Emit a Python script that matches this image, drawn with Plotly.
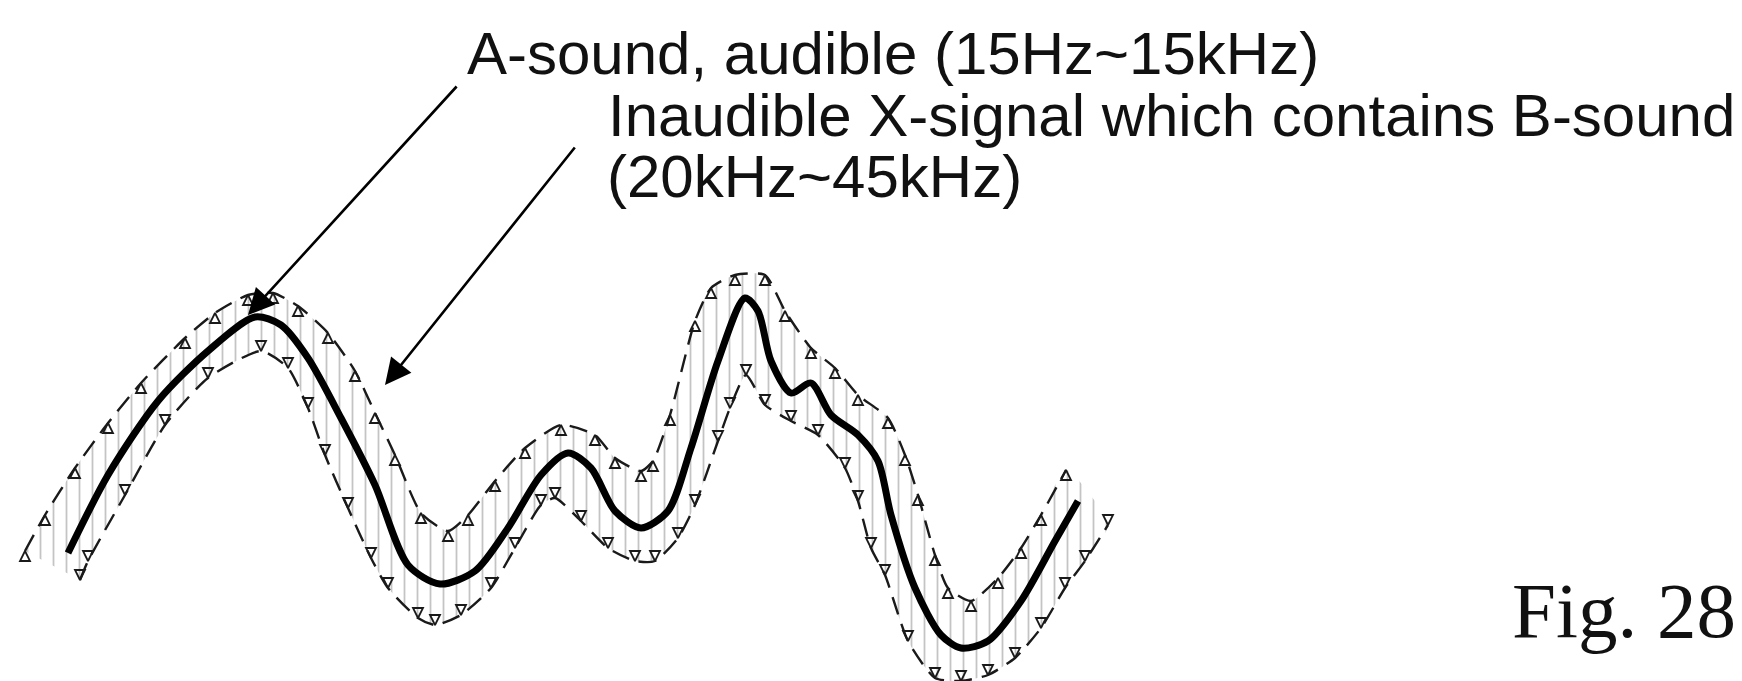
import plotly.graph_objects as go

# A-sound (solid curve) (pixel-like units, y downward)
main_x = [60, 100, 150, 200, 247, 273, 300, 333, 367, 400, 432, 467, 500, 533, 560, 583, 607, 633, 660, 683, 710, 737, 750, 763, 783, 803, 823, 850, 870, 883, 907, 933, 953, 980, 1013, 1047, 1070]
main_y = [545, 467, 393, 343, 309, 317, 350, 410, 477, 557, 576, 563, 520, 467, 445, 460, 503, 520, 503, 440, 353, 290, 303, 353, 385, 375, 407, 427, 453, 507, 580, 627, 640, 633, 593, 533, 493]

# upper edge of the X-signal band (dashed)
upper_x = [17, 37, 67, 100, 133, 177, 207, 240, 265, 290, 320, 347, 367, 387, 413, 440, 460, 487, 517, 553, 587, 607, 633, 645, 662, 687, 703, 727, 757, 777, 803, 827, 850, 880, 897, 910, 927, 940, 963, 990, 1013, 1033, 1058]
upper_y = [543, 507, 460, 415, 375, 330, 305, 287, 285, 298, 325, 363, 405, 447, 505, 523, 507, 473, 440, 417, 427, 450, 463, 453, 407, 313, 280, 267, 267, 303, 340, 360, 387, 410, 447, 487, 547, 580, 593, 570, 540, 507, 462]

# lower edge of the X-signal band (dashed)
lower_x = [72, 80, 117, 157, 200, 253, 280, 300, 317, 340, 363, 380, 410, 427, 453, 483, 507, 533, 547, 573, 600, 627, 647, 670, 687, 710, 722, 738, 757, 783, 810, 837, 850, 863, 877, 900, 927, 953, 980, 1007, 1033, 1057, 1077, 1100]
lower_y = [572, 553, 487, 417, 370, 343, 360, 400, 447, 500, 550, 580, 610, 617, 607, 580, 540, 497, 490, 513, 540, 553, 553, 530, 497, 433, 400, 367, 397, 413, 427, 460, 493, 540, 567, 633, 670, 673, 667, 650, 620, 580, 553, 517]

label_a = "A-sound, audible (15Hz~15kHz)"
label_x1 = "Inaudible X-signal which contains B-sound"
label_x2 = "(20kHz~45kHz)"
fig_label = "Fig. 28"

fig = go.Figure()

# hatched band between the dashed edges
fig.add_trace(go.Scatter(
    x=upper_x + lower_x[::-1], y=upper_y + lower_y[::-1],
    mode="lines", fill="toself", line=dict(width=0, shape="spline", smoothing=0.6),
    fillcolor="rgba(0,0,0,0)",
    fillpattern=dict(shape="|", fgcolor="#8a8a8a", bgcolor="rgba(255,255,255,0)", size=13, solidity=0.14),
    hoverinfo="skip", showlegend=False))

fig.add_trace(go.Scatter(
    x=upper_x, y=upper_y, mode="lines+markers",
    line=dict(color="#1a1a1a", width=2.4, dash="18px,10px", shape="spline", smoothing=0.6),
    marker=dict(symbol="arrow-up-open", size=10, color="#1a1a1a", line=dict(width=1.8, color="#1a1a1a")),
    hoverinfo="skip", showlegend=False))

fig.add_trace(go.Scatter(
    x=lower_x, y=lower_y, mode="lines+markers",
    line=dict(color="#1a1a1a", width=2.4, dash="18px,10px", shape="spline", smoothing=0.6),
    marker=dict(symbol="arrow-down-open", size=10, color="#1a1a1a", line=dict(width=1.8, color="#1a1a1a")),
    hoverinfo="skip", showlegend=False))

fig.add_trace(go.Scatter(
    x=main_x, y=main_y, mode="lines",
    line=dict(color="#000", width=7, shape="spline", smoothing=0.8),
    hoverinfo="skip", showlegend=False))

font_sans = dict(family="Liberation Sans, Arial, sans-serif", size=60, color="#111")
annotations = [
    dict(x=240, y=307, ax=450, ay=77, xref="x", yref="y", axref="x", ayref="y",
         showarrow=True, arrowhead=2, arrowsize=2.0, arrowwidth=2.6, arrowcolor="#000", text=""),
    dict(x=377, y=377, ax=568, ay=138, xref="x", yref="y", axref="x", ayref="y",
         showarrow=True, arrowhead=2, arrowsize=2.0, arrowwidth=2.6, arrowcolor="#000", text=""),
    dict(x=457, y=45, xref="x", yref="y", text=label_a, showarrow=False,
         xanchor="left", yanchor="middle", font=font_sans),
    dict(x=598, y=107, xref="x", yref="y", text=label_x1, showarrow=False,
         xanchor="left", yanchor="middle", font=font_sans),
    dict(x=597, y=168, xref="x", yref="y", text=label_x2, showarrow=False,
         xanchor="left", yanchor="middle", font=font_sans),
    dict(x=1502, y=602, xref="x", yref="y", text=fig_label, showarrow=False,
         xanchor="left", yanchor="middle",
         font=dict(family="Liberation Serif, Times New Roman, serif", size=79, color="#111")),
]

fig.update_layout(
    width=1742, height=681,
    margin=dict(l=0, r=0, t=0, b=0),
    paper_bgcolor="white", plot_bgcolor="white",
    xaxis=dict(range=[0, 1742], visible=False, fixedrange=True),
    yaxis=dict(range=[681, 0], visible=False, fixedrange=True),
    annotations=annotations,
)

fig.write_html("out.html")
